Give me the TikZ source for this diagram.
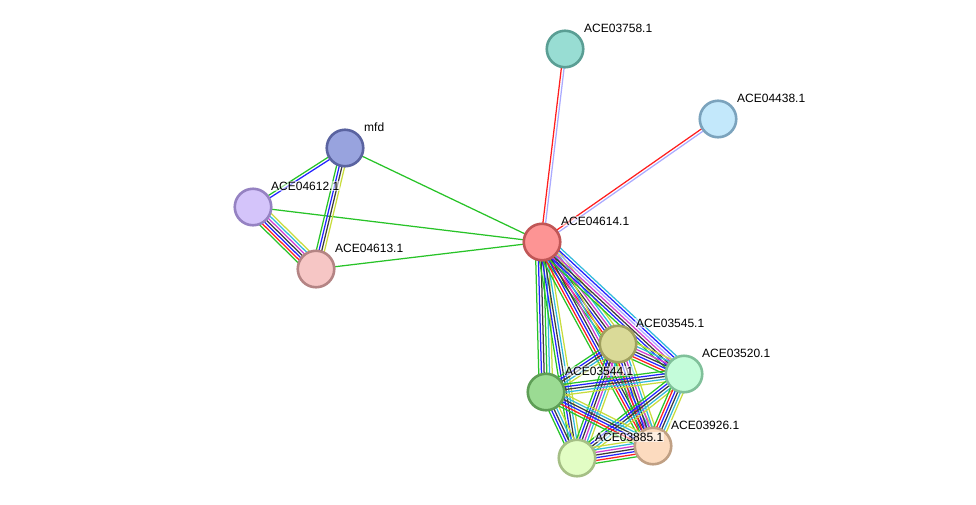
\documentclass[tikz,border=0pt]{standalone}
\usepackage{fontspec}
\setmainfont{Liberation Sans}
\usetikzlibrary{calc}
\pgfdeclarelayer{bg}
\pgfsetlayers{bg,main}
\definecolor{eg}{RGB}{40,195,40}
\definecolor{er}{RGB}{255,30,30}
\definecolor{eb}{RGB}{35,35,255}
\definecolor{ek}{RGB}{60,60,60}
\definecolor{em}{RGB}{210,60,210}
\definecolor{ec}{RGB}{50,185,220}
\definecolor{ey}{RGB}{200,220,60}
\definecolor{el}{RGB}{170,170,255}
% node colours
\definecolor{f3758}{RGB}{152,221,211}\definecolor{d3758}{RGB}{90,158,148}
\definecolor{f4438}{RGB}{195,232,251}\definecolor{d4438}{RGB}{123,163,189}
\definecolor{fmfd}{RGB}{152,163,222}\definecolor{dmfd}{RGB}{90,99,160}
\definecolor{f4612}{RGB}{212,196,250}\definecolor{d4612}{RGB}{149,130,194}
\definecolor{f4613}{RGB}{246,198,197}\definecolor{d4613}{RGB}{180,132,132}
\definecolor{f4614}{RGB}{253,148,148}\definecolor{d4614}{RGB}{192,86,86}
\definecolor{f3545}{RGB}{218,218,152}\definecolor{d3545}{RGB}{160,160,94}
\definecolor{f3520}{RGB}{196,252,218}\definecolor{d3520}{RGB}{128,192,154}
\definecolor{f3544}{RGB}{155,219,147}\definecolor{d3544}{RGB}{94,158,86}
\definecolor{f3885}{RGB}{226,253,196}\definecolor{d3885}{RGB}{165,191,133}
\definecolor{f3926}{RGB}{252,219,191}\definecolor{d3926}{RGB}{192,160,132}
\tikzset{
  prot/.style={circle, minimum size=36.5pt, inner sep=0pt, line width=2.6pt, fill=f#1, draw=d#1},
  lbl/.style={anchor=base west, font=\fontsize{12}{14}\selectfont, fill=white, fill opacity=0.55, text opacity=1, inner sep=1pt},
  eline/.style={line width=1.25pt}
}
\newcommand\medge[3]{%
  \foreach \c [count=\n] in {#3} {\xdef\mtot{\n}}%
  \foreach \c [count=\i] in {#3} {%
    \pgfmathsetmacro\off{(\i-(\mtot+1)/2)*2.7}%
    \draw[eline, \c] ($(#1.center)!\off pt!90:(#2.center)$) -- ($(#2.center)!\off pt!-90:(#1.center)$);
  }}
\begin{document}
\begin{tikzpicture}[x=1pt,y=-1pt]
\useasboundingbox (0,0) rectangle (976,504);
% nodes
\node[prot=3758] (n3758) at (565,49) {};
\node[prot=4438] (n4438) at (718,119) {};
\node[prot=mfd] (nmfd) at (345,148) {};
\node[prot=4612] (n4612) at (253,207) {};
\node[prot=4613] (n4613) at (316,269) {};
\node[prot=4614] (n4614) at (542,242) {};
\node[prot=3545] (n3545) at (618,344) {};
\node[prot=3520] (n3520) at (684,374) {};
\node[prot=3544] (n3544) at (546,392) {};
\node[prot=3885] (n3885) at (577,458) {};
\node[prot=3926] (n3926) at (653,446) {};
% labels
\node[lbl] (l3758) at (583,32) {ACE03758.1};
\node[lbl] (l4438) at (736,102) {ACE04438.1};
\node[lbl] (lmfd) at (363,131) {mfd};
\node[lbl] (l4612) at (270,190) {ACE04612.1};
\node[lbl] (l4613) at (334,252) {ACE04613.1};
\node[lbl] (l4614) at (560,225) {ACE04614.1};
\node[lbl] (l3545) at (635,327) {ACE03545.1};
\node[lbl] (l3520) at (701,357) {ACE03520.1};
\node[lbl] (l3544) at (564,375) {ACE03544.1};
\node[lbl] (l3885) at (594,441) {ACE03885.1};
\node[lbl] (l3926) at (670,429) {ACE03926.1};
% edges
\begin{pgfonlayer}{bg}
\medge{n3758}{n4614}{er,el}
\medge{n4438}{n4614}{er,el}
\medge{nmfd}{n4614}{eg}
\medge{n4612}{n4614}{eg}
\medge{n4613}{n4614}{eg}
\medge{nmfd}{n4612}{eg,eb}
\medge{nmfd}{n4613}{eg,eb,ek,ey}
\medge{n4612}{n4613}{eg,er,eb,ek,em,ec,ey}
\medge{n4614}{n3544}{eg,eb,ek,eg,ec,ey}
\medge{n4614}{n3885}{eg,eb,ek,ec,ey}
\medge{n4614}{n3545}{eg,er,eb,ek,em,ec,ey}
\medge{n4614}{n3926}{eg,er,eb,ek,em,ec,ey}
\medge{n4614}{n3520}{eg,eb,ek,em,el,eb,ec}
\medge{n3545}{n3520}{eg,er,eb,ek,em,ec,ey}
\medge{n3545}{n3544}{eg,eb,ek,ec,ey}
\medge{n3545}{n3885}{eg,eb,ek,em,ec,ey}
\medge{n3545}{n3926}{eg,er,eb,ek,em,ec,ey}
\medge{n3520}{n3544}{eg,eb,ek,ec,ey}
\medge{n3520}{n3885}{eg,eb,ek,ec,ey}
\medge{n3520}{n3926}{eg,er,eb,ek,ec,ey}
\medge{n3544}{n3885}{eg,eb,ek,ec,ey}
\medge{n3544}{n3926}{eg,er,eb,ek,ec,ey}
\medge{n3885}{n3926}{eg,er,eb,ek,em,ec,ey}
\end{pgfonlayer}
\end{tikzpicture}
\end{document}
